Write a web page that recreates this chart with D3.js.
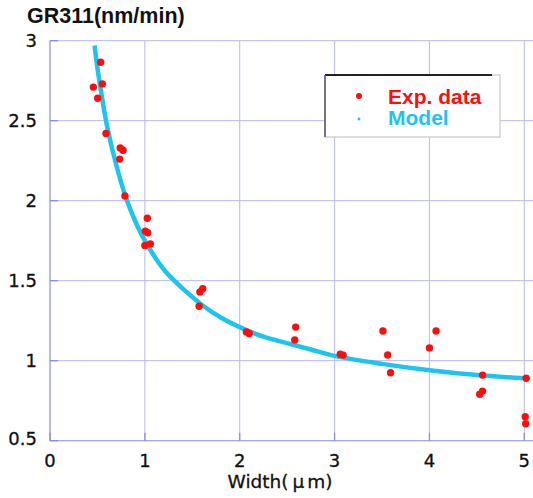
<!DOCTYPE html>
<html><head><meta charset="utf-8">
<script src="https://cdn.jsdelivr.net/npm/d3@7"></script>
<style>body{margin:0;background:#fff}svg{display:block}</style>
</head><body>
<svg id="c" width="533" height="498"></svg>
<script>
const expX = [0.457,0.534,0.552,0.503,0.59,0.74,0.77,0.735,0.79,1.026,1.005,1.03,1.0,1.058,1.58,1.61,1.572,2.07,2.10,2.59,2.58,3.06,3.09,3.51,3.56,3.59,4.0,4.07,4.56,4.56,4.53,5.02,5.01,5.015];
const expY = [2.71,2.865,2.73,2.64,2.42,2.33,2.315,2.26,2.03,1.89,1.81,1.80,1.72,1.73,1.43,1.45,1.34,1.18,1.17,1.21,1.13,1.04,1.035,1.186,1.036,0.925,1.08,1.186,0.91,0.81,0.79,0.89,0.65,0.606];
const modelX = [0.47,0.5,0.55,0.6,0.7,0.8,0.9,1.0,1.2,1.4,1.6,1.8,2.0,2.25,2.5,2.75,3.0,3.5,4.0,4.5,5.0];
const modelY = [2.97,2.83,2.64,2.47,2.22,2.02,1.87,1.75,1.57,1.45,1.35,1.27,1.21,1.15,1.11,1.07,1.03,0.98,0.94,0.91,0.89];
const xTicks = [0,1,2,3,4,5];
const yTicks = [0.5,1,1.5,2,2.5,3];
const titleText = "GR311(nm/min)";
const legendLabels = ["Exp. data","Model"];

const svg = d3.select("#c");
const x = d3.scaleLinear().domain([0,5]).range([50,524.3]);
const y = d3.scaleLinear().domain([0.5,3]).range([440.7,40.7]);
const right = 533;
const gridC = "#b8b8f2", axC = "#a8a8ee", tickC = "#8c8ce0";
const red = "#ff0d0d", cyan = "#1cc4ee";
const font = "'Liberation Sans', Arial, sans-serif";
const tfont = "'DejaVu Sans', sans-serif";

// grid
svg.append("g").selectAll("line").data(yTicks).join("line")
  .attr("x1",x(0)).attr("x2",right).attr("y1",d=>y(d)).attr("y2",d=>y(d))
  .attr("stroke",gridC).attr("stroke-width",1);
svg.append("g").selectAll("line").data(xTicks).join("line")
  .attr("x1",d=>x(d)).attr("x2",d=>x(d)).attr("y1",y(3)).attr("y2",y(0.5))
  .attr("stroke",gridC).attr("stroke-width",1);
// axes borders
svg.append("line").attr("x1",x(0)).attr("x2",x(0)).attr("y1",y(3)).attr("y2",y(0.5)).attr("stroke",axC).attr("stroke-width",1.3);
svg.append("line").attr("x1",x(0)).attr("x2",right).attr("y1",y(0.5)).attr("y2",y(0.5)).attr("stroke",axC).attr("stroke-width",1.3);
// tick marks
svg.append("g").selectAll("line").data(yTicks).join("line")
  .attr("x1",x(0)).attr("x2",x(0)+8).attr("y1",d=>y(d)).attr("y2",d=>y(d))
  .attr("stroke",tickC).attr("stroke-width",1.3);
svg.append("g").selectAll("line").data(xTicks).join("line")
  .attr("x1",d=>x(d)).attr("x2",d=>x(d)).attr("y1",y(0.5)).attr("y2",y(0.5)-8)
  .attr("stroke",tickC).attr("stroke-width",1.3);

// tick labels
svg.append("g").selectAll("text").data(yTicks).join("text")
  .attr("x",37).attr("y",d=>y(d)+6.5 - (d===0.5?2:0))
  .attr("text-anchor","end").attr("font-family",tfont).attr("font-size",18).attr("fill","#111")
  .attr("stroke","#111").attr("stroke-width",0.3)
  .text(d=>d3.format("~g")(d));
svg.append("g").selectAll("text").data(xTicks).join("text")
  .attr("x",d=>x(d)).attr("y",467)
  .attr("text-anchor","middle").attr("font-family",tfont).attr("font-size",18).attr("fill","#111")
  .attr("stroke","#111").attr("stroke-width",0.3)
  .text(d=>d);

// x label
const xl = svg.append("text").attr("x",280).attr("y",488).attr("text-anchor","middle")
  .attr("font-family",tfont).attr("font-size",18.5).attr("fill","#111")
  .attr("stroke","#111").attr("stroke-width",0.3);
xl.append("tspan").text("Width(");
xl.append("tspan").attr("dx",4).text("μ");
xl.append("tspan").attr("dx",3).text("m)");

// title
svg.append("text").attr("x",27).attr("y",23).attr("font-family",font).attr("font-weight","bold")
  .attr("font-size",21.5).attr("fill","#111").text(titleText);

// clip
svg.append("clipPath").attr("id","pc").append("rect")
  .attr("x",x(0)).attr("y",y(3)).attr("width",right-x(0)).attr("height",y(0.5)-y(3));

// model line
const modelData = modelX.map((v,i)=>[v,modelY[i]]);
svg.append("path").datum(modelData).attr("clip-path","url(#pc)")
  .attr("d",d3.line().x(d=>x(d[0])).y(d=>y(d[1])).curve(d3.curveCatmullRom))
  .attr("fill","none").attr("stroke",cyan).attr("stroke-width",4.5);

// exp points
svg.append("g").selectAll("circle").data(expX.map((v,i)=>[v,expY[i]])).join("circle")
  .attr("cx",d=>x(d[0])).attr("cy",d=>y(d[1])).attr("r",3.7).attr("fill",red);

// legend
const lg = svg.append("g");
lg.append("rect").attr("x",325).attr("y",75).attr("width",175).attr("height",62)
  .attr("fill","#fff").attr("stroke","#c8c8c8").attr("stroke-width",1.2);
lg.append("line").attr("x1",325).attr("x2",492).attr("y1",75).attr("y2",75).attr("stroke","#222").attr("stroke-width",2);
lg.append("line").attr("x1",325).attr("x2",325).attr("y1",75).attr("y2",137).attr("stroke","#555").attr("stroke-width",1.5);
lg.append("circle").attr("cx",359).attr("cy",96).attr("r",3).attr("fill",red);
lg.append("circle").attr("cx",359).attr("cy",119).attr("r",1.4).attr("fill",cyan);
lg.append("text").attr("x",388).attr("y",103.5).attr("font-family",font).attr("font-weight","bold")
  .attr("font-size",21).attr("fill",red).text(legendLabels[0]);
lg.append("text").attr("x",388).attr("y",124.5).attr("font-family",font).attr("font-weight","bold")
  .attr("font-size",21).attr("fill",cyan).text(legendLabels[1]);
</script>
</body></html>
